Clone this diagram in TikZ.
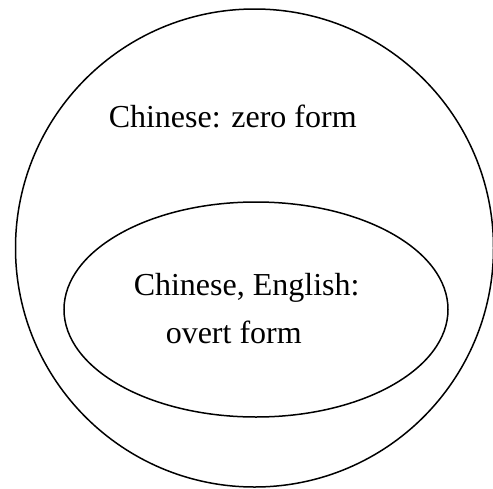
\documentclass[tikz,border=0pt]{standalone}
\usepackage{fontspec}
\setmainfont{Liberation Serif}
\usetikzlibrary{positioning}

\begin{document}
\begin{tikzpicture}[x=1pt,y=-1pt,line width=1.5pt,
		set label/.style={inner sep=0pt,anchor=base west,font=\fontsize{32}{38}\selectfont}]
		\useasboundingbox (0,0) rectangle (493,488);
		
		% outer set and inner set
		\draw (254.5,248) circle [radius=239];
		\draw (256,309.5) ellipse [x radius=192,y radius=107.5];
		
		\node[set label] (zero) at (108,127) {Chinese: zero form};
		\node[set label] (both) at (133,295) {Chinese, English:};
		\node[set label] (overt) at (165,343) {overt form};
		\end{tikzpicture}
\end{document}
